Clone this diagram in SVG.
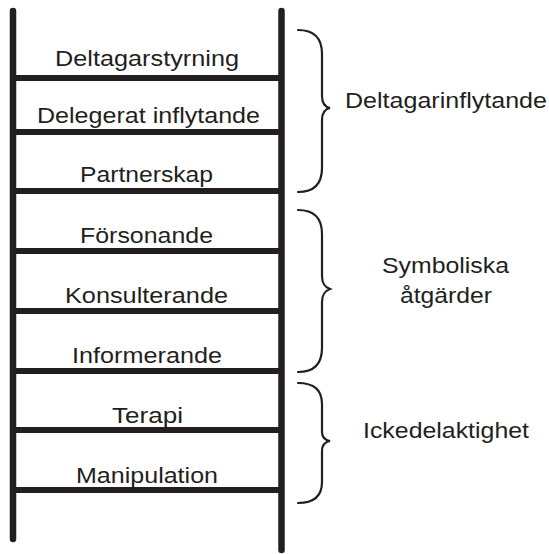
<svg xmlns="http://www.w3.org/2000/svg" width="549" height="554" viewBox="0 0 549 554">
<style>
.rail{stroke:#231f20;stroke-width:6.5;stroke-linecap:round;fill:none}
.rung{stroke:#231f20;stroke-width:6;fill:none}
.brace{stroke:#231f20;stroke-width:2.2;fill:none;stroke-linecap:round}
text{font-family:"Liberation Sans",Arial,Helvetica,sans-serif;font-size:22.5px;fill:#231f20;text-anchor:middle}
</style>
<rect width="549" height="554" fill="#fff"/>
<g id="ladder">
<line class="rail" x1="13" y1="11" x2="13" y2="539"/>
<line class="rail" x1="281.5" y1="11" x2="281.5" y2="550"/>
</g>
<g id="rung-deltagarstyrning">
<line class="rung" x1="13" y1="78" x2="282" y2="78"/>
<text x="147" y="66" textLength="184" lengthAdjust="spacingAndGlyphs">Deltagarstyrning</text>
</g>
<g id="rung-delegerat">
<line class="rung" x1="13" y1="132" x2="282" y2="132"/>
<text x="148.5" y="123" textLength="223" lengthAdjust="spacingAndGlyphs">Delegerat inflytande</text>
</g>
<g id="rung-partnerskap">
<line class="rung" x1="13" y1="191" x2="282" y2="191"/>
<text x="146.5" y="182" textLength="133" lengthAdjust="spacingAndGlyphs">Partnerskap</text>
</g>
<g id="rung-forsonande">
<line class="rung" x1="13" y1="251" x2="282" y2="251"/>
<text x="146.5" y="243" textLength="133" lengthAdjust="spacingAndGlyphs">Försonande</text>
</g>
<g id="rung-konsulterande">
<line class="rung" x1="13" y1="311" x2="282" y2="311"/>
<text x="146.5" y="303" textLength="163" lengthAdjust="spacingAndGlyphs">Konsulterande</text>
</g>
<g id="rung-informerande">
<line class="rung" x1="13" y1="371" x2="282" y2="371"/>
<text x="147" y="363" textLength="150" lengthAdjust="spacingAndGlyphs">Informerande</text>
</g>
<g id="rung-terapi">
<line class="rung" x1="13" y1="430" x2="282" y2="430"/>
<text x="147.5" y="423" textLength="71" lengthAdjust="spacingAndGlyphs">Terapi</text>
</g>
<g id="rung-manipulation">
<line class="rung" x1="13" y1="490" x2="282" y2="490"/>
<text x="147" y="483" textLength="142" lengthAdjust="spacingAndGlyphs">Manipulation</text>
</g>
<g id="connectors">
<path class="brace" d="M298,30 C314,30 322,38 322,54 L322,96 C322,104 325,107 330,108 C325,109 322,112 322,120 L322,168 C322,184 314,192 298,192"/>
<path class="brace" d="M298,210 C314,210 322,218 322,234 L322,276 C322,284 325,287 330,289 C325,291 322,294 322,302 L322,348 C322,364 314,372 298,372"/>
<path class="brace" d="M298,383 C314,383 322,390 322,404 L322,432 C322,438 325,440 330,441 C325,442 322,445 322,451 L322,482 C322,496 314,503 298,503"/>
</g>
<g id="group-deltagarinflytande">
<text x="446" y="108" textLength="202" lengthAdjust="spacingAndGlyphs">Deltagarinflytande</text>
</g>
<g id="group-symboliska">
<text x="445.5" y="273" textLength="127" lengthAdjust="spacingAndGlyphs">Symboliska</text>
<text x="446" y="303" textLength="92" lengthAdjust="spacingAndGlyphs">åtgärder</text>
</g>
<g id="group-ickedelaktighet">
<text x="446" y="438" textLength="166" lengthAdjust="spacingAndGlyphs">Ickedelaktighet</text>
</g>
</svg>
